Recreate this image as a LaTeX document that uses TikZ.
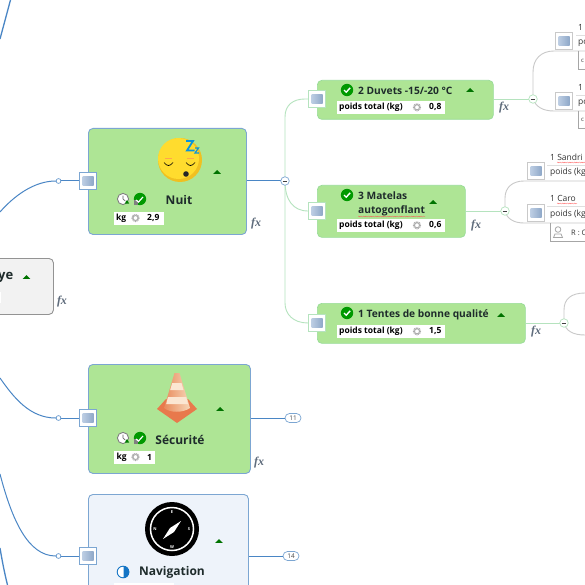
\documentclass[tikz,border=0pt]{standalone}
\usepackage{fontspec}
\setmainfont{Open Sans}
\newfontfamily\fxfont{Liberation Serif}
\usetikzlibrary{decorations.pathmorphing}
\definecolor{grn}{HTML}{AEE595}
\definecolor{grnb}{HTML}{98DC98}
\definecolor{blu}{HTML}{7CA6D2}
\definecolor{wire}{HTML}{4A86C5}
\definecolor{lgw}{HTML}{B5E3BE}
\definecolor{gryw}{HTML}{C9C9C9}
\definecolor{ink}{HTML}{1E2B2B}
\definecolor{fxc}{HTML}{5F6C7C}
\definecolor{navf}{HTML}{EEF3FA}
\definecolor{imga}{HTML}{BCCDE3}
\definecolor{imgb}{HTML}{8FA8C8}
\definecolor{facea}{HTML}{F0C020}
\definecolor{faceb}{HTML}{FFDC2E}
\definecolor{conea}{HTML}{E98A5C}
\definecolor{coneb}{HTML}{F6D7B8}
\definecolor{conec}{HTML}{E8794C}
\definecolor{coned}{HTML}{FBE6D2}
\tikzset{
 x=1pt,y=-1pt,
 mainbox/.style={draw=blu,line width=.9pt,fill=grn,rounded corners=4.5pt,anchor=north west,inner sep=0pt},
 subbox/.style={draw=grnb,line width=.7pt,fill=grn,rounded corners=4.5pt,anchor=north west,inner sep=0pt},
 ttl/.style={font=\bfseries\fontsize{10.2}{12}\selectfont,text=ink,inner sep=0pt,anchor=west},
 bigt/.style={font=\bfseries\fontsize{12}{14}\selectfont,text=ink,inner sep=0pt,anchor=center},
 val/.style={fill=white,inner sep=0pt,minimum height=12.5pt,anchor=north west},
 vtxt/.style={font=\bfseries\fontsize{8.5}{10}\selectfont,text=black,inner sep=0pt,anchor=west},
 fxl/.style={font=\fxfont\bfseries\itshape\fontsize{12}{13}\selectfont,text=fxc,inner sep=0pt},
 minusn/.style={circle,draw=#1,fill=white,line width=.7pt,minimum size=8.5pt,inner sep=0pt},
 dotn/.style={circle,draw=wire,fill=white,line width=.6pt,minimum size=4.8pt,inner sep=0pt},
 pill/.style={draw=blu,fill=white,rounded corners=4.5pt,line width=.7pt,minimum width=16pt,minimum height=9pt,inner sep=0pt,font=\fontsize{6.5}{7}\selectfont,text=black!70},
 wirem/.style={draw=wire,line width=1pt},
 wiresub/.style={draw=lgw,line width=.9pt},
 wireg/.style={draw=gryw,line width=.9pt},
 leaft/.style={font=\fontsize{8.5}{10}\selectfont,text=black!80,inner sep=0pt,anchor=west},
 squig/.style={draw=red!70!white,line width=.25pt,decorate,decoration={snake,amplitude=.55pt,segment length=2.4pt}},
}
\newcommand{\imgbox}[4]{%
 \node[draw=#4,fill=white,line width=.9pt,minimum size=17pt,inner sep=0pt] (#1) at (#2,#3) {};
 \shade[left color=imga,right color=imgb] (#2-5.5,#3-4.5) rectangle (#2+5.5,#3+4.5);}
\newcommand{\tri}[2]{\fill[green!45!black] (#1-3.8,#2+1.8) -- (#1,#2-2) -- (#1+3.8,#2+1.8) -- cycle;}
\newcommand{\chk}[2]{\fill[green!60!black] (#1,#2) circle (6.2);
 \draw[white,line width=1.4pt] (#1-3,#2) -- (#1-.8,#2+2.2) -- (#1+3.2,#2-2.2);}
\newcommand{\clockpair}[2]{\draw[gray,line width=.9pt,fill=white] (#1,#2) circle (5.6);
 \draw[gray!70!black,line width=.6pt] (#1,#2-3.5) -- (#1,#2) -- (#1+2.5,#2+2.2);
 \fill[green!50!black] (#1+4,#2+1) -- (#1+6.2,#2+4.5) -- (#1+1.8,#2+4.5) -- cycle;
 \fill[green!60!black] (#1+17,#2) circle (6.2);
 \fill[gray] (#1+10.5,#2+.5) rectangle (#1+14.5,#2+6);
 \draw[white,line width=1.2pt] (#1+13,#2+1) -- (#1+15.5,#2+3) -- (#1+20,#2-2);}
\newcommand{\gear}[2]{\draw[gray!65,line width=1.4pt,dash pattern=on .9pt off .7pt] (#1,#2) circle (3.4);
 \draw[gray!65,line width=.9pt,fill=white] (#1,#2) circle (2.5);}
\newcommand{\minusmark}[4]{\node[minusn=#4] (#1) at (#2,#3) {};\draw[black!75,line width=.8pt] (#2-2.3,#3) -- (#2+2.3,#3);}
\newcommand{\valrow}[5]{%
 \node[val,minimum width=108pt] at (#1,#2) {};
 \node[vtxt] at (#1+2,#2+6.3) {#3};
 \gear{#4}{#2+6.3}
 \node[vtxt] at (#4+12,#2+6.3) {#5};}
\begin{document}
\begin{tikzpicture}
\useasboundingbox (0,0) rectangle (585,585);
\fill[white] (0,0) rectangle (585,585);
% free ends
\coordinate (c1) at (0,212);
\coordinate (c2) at (0,378);
\coordinate (c3) at (0,474);
\coordinate (o1a) at (10.5,0);
\coordinate (o1b) at (0,39);
\coordinate (o2a) at (0,548);
\coordinate (o2b) at (7.5,585);
\coordinate (eT1) at (585,51);
\coordinate (eT2) at (585,111);
\coordinate (eM1) at (585,181);
\coordinate (eM2) at (585,223);
\coordinate (eQ1) at (585,293);
\coordinate (eQ2) at (585,335);
\draw[wirem,line width=1.3pt] (o1a) .. controls (7,13) and (3.5,26) .. (o1b);
\draw[wirem,line width=1.3pt] (o2a) .. controls (2,560) and (4.5,573) .. (o2b);
% central node
\node[draw=gray!85,fill=black!5,line width=.9pt,rounded corners=4.5pt,anchor=north west,minimum width=83pt,minimum height=56pt,inner sep=0pt] (root) at (-30,258) {};
\node[font=\bfseries\fontsize{13}{15}\selectfont,text=ink,inner sep=0pt,anchor=east] (roott) at (13.5,277) {ye};
\tri{26.5}{277}
\fill[white] (0,292) rectangle (1.2,303);
\node[fxl] (fx0) at (62,302) {fx};
% main boxes
\node[mainbox,minimum width=158pt,minimum height=106pt] (nuit) at (88,128) {};
\node[mainbox,minimum width=162pt,minimum height=109pt] (secu) at (88,364) {};
\node[mainbox,fill=navf,minimum width=160pt,minimum height=100pt] (navi) at (88,494) {};
% sub boxes
\node[subbox,minimum width=176pt,minimum height=39pt] (duv) at (317,80) {};
\node[subbox,minimum width=148pt,minimum height=52pt] (mat) at (317,185) {};
\node[subbox,minimum width=208pt,minimum height=40pt] (ten) at (317,303) {};
% dots and collapse marks
\node[dotn] (d1) at (58.5,181) {};
\node[dotn] (d2) at (58.5,418) {};
\node[dotn] (d3) at (58.5,556) {};
\draw[wirem] (c1) .. controls (14,196) and (34,181) .. (d1.west);
\draw[wirem] (c2) .. controls (14,398) and (30,418) .. (d2.west);
\draw[wirem] (c3) .. controls (12,520) and (28,556) .. (d3.west);
\imgbox{i1}{88}{181}{blu}
\imgbox{i2}{88}{418}{blu}
\imgbox{i3}{88}{556}{blu}
\draw[wirem] (d1) -- (i1);
\draw[wirem] (d2) -- (i2);
\draw[wirem] (d3) -- (i3);
% right pills
\node[pill] (p11) at (293,418) {11};
\node[pill] (p14) at (291,556) {14};
\draw[wirem] (secu.east |- p11) -- (p11);
\draw[wirem] (navi.east |- p14) -- (p14);
% Nuit branches
\imgbox{i4}{317}{99}{lgw}
\imgbox{i5}{317}{211}{lgw}
\imgbox{i6}{317}{323}{lgw}
\coordinate (nh) at (285,181);
\draw[wiresub] (i4.west) -- (305,99) .. controls (293,99) and (285,105) .. (285,117) -- (285,303) .. controls (285,314) and (293,323) .. (i6.west);
\draw[wiresub] (nh) .. controls (285,200) and (293,211) .. (i5.west);
\draw[wirem] (nuit.east |- nh) -- (nh);
\minusmark{m0}{285}{181}{blu}
% leaf branches
\coordinate (h1) at (533,99);
\coordinate (h2) at (505,211);
\coordinate (h3) at (564,323);
\draw[wiresub] (duv.east |- h1) -- (h1);
\draw[wireg] (h1) -- (533,72) .. controls (533,59) and (541,51) .. (554,51) -- (eT1);
\draw[wireg] (h1) .. controls (536,107) and (543,111) .. (554,111) -- (eT2);
\minusmark{m1}{533}{99}{lgw}
\draw[wiresub] (mat.east |- h2) -- (h2);
\draw[wireg] (h2) -- (505,198) .. controls (505,187) and (513,181) .. (524,181) -- (eM1);
\draw[wireg] (h2) .. controls (507,219) and (514,223) .. (524,223) -- (eM2);
\minusmark{m2}{505}{211}{lgw}
\draw[wiresub] (ten.east |- h3) -- (h3);
\draw[wireg] (h3) -- (564,310) .. controls (564,299) and (571,293) .. (eQ1);
\draw[wireg] (h3) .. controls (566,331) and (573,335) .. (eQ2);
\minusmark{m3}{564}{323}{lgw}
% leaf nodes
\imgbox{i7}{564}{41}{gryw}
\imgbox{i8}{564}{101}{gryw}
\imgbox{i9}{536}{171}{gryw}
\imgbox{i10}{536}{213}{gryw}
\node[leaft] (l1) at (578,27) {1};
\draw[gray!25,line width=.7pt] (576,35) -- (585,35);
\node[leaft] (l2) at (578,43) {po};
\draw[gray!70,line width=.6pt] (578,51) -- (578,69) -- (585,69);
\node[leaft,font=\fontsize{6}{7}\selectfont] (l2b) at (581,61) {c};
\node[leaft] (l3) at (578,87) {1};
\draw[gray!25,line width=.7pt] (576,95) -- (585,95);
\node[leaft] (l4) at (578,103) {po};
\draw[gray!70,line width=.6pt] (578,111) -- (578,128) -- (585,128);
\node[leaft,font=\fontsize{6}{7}\selectfont] (l4b) at (581,120) {c};
\node[leaft] (l5) at (550,157) {1 Sandri};
\draw[squig] (557,162.5) -- (585,162.5);
\draw[gray!25,line width=.7pt] (547,165.5) -- (585,165.5);
\node[leaft] (l6) at (550,172) {poids (kg};
\node[leaft] (l7) at (550,198) {1 Caro};
\draw[squig] (557,203.5) -- (577,203.5);
\draw[gray!25,line width=.7pt] (547,206.5) -- (585,206.5);
\node[leaft] (l8) at (550,214) {poids (kg};
\draw[gray!70,line width=.6pt] (550,223) -- (550,241) -- (585,241);
\draw[gray!70,line width=.8pt] (558,229.5) circle (2.8);
\draw[gray!70,line width=.8pt] (553.5,237.5) -- (562.5,237.5) -- (561,234) -- (555,234) -- cycle;
\node[leaft,font=\fontsize{7.5}{9}\selectfont] (l9) at (571,232.5) {R : C};
% Nuit contents
\fill[facea] (180,160) circle (22);
\fill[faceb] (178.5,158.5) circle (20.5);
\draw[black,line width=.7pt] (164,162.5) .. controls (167,166.5) and (170,166.5) .. (173,162.5);
\draw[black,line width=.7pt] (186,162.5) .. controls (189,166.5) and (192,166.5) .. (195,162.5);
\draw[orange!70,line width=.4pt] (165,158.5) -- (172,158.5) (187,158.5) -- (194,158.5);
\fill[black!85] (186,174) circle (2.8);
\draw[cyan!80!blue,line width=1.8pt,line join=miter] (186,141) -- (193,141) -- (187,150.5) -- (194.5,150.5);
\draw[cyan!80!blue,line width=1.2pt] (195,148) -- (198.5,148) -- (195,153) -- (199,153);
\tri{217}{172}
\clockpair{123}{199}
\node[bigt] (nuitt) at (179,200) {Nuit};
\node[val,minimum width=50pt] (nuitv) at (113.5,212) {};
\node[vtxt] (nuitk) at (116,218.3) {kg};
\gear{135.5}{218}
\node[vtxt] (nuitn) at (147,218.3) {2,9};
\node[fxl] (fx1) at (256,224) {fx};
% Duvets
\chk{347}{90}
\node[ttl] (duvt) at (358,91) {2 Duvets -15/-20 °C};
\tri{470}{90}
\valrow{337}{101}{poids total (kg)}{417}{0,8}
\node[fxl] (fx2) at (504,108) {fx};
% Matelas
\chk{347}{195}
\node[ttl] (matt1) at (358,195.5) {3 Matelas};
\node[ttl] (matt2) at (358,210.5) {autogonflant};
\draw[squig] (358,216.5) -- (425,216.5);
\tri{433}{202}
\valrow{337}{219}{poids total (kg)}{417}{0,6}
\node[fxl] (fx3) at (476,226) {fx};
% Tentes
\chk{347}{313}
\node[ttl] (tent) at (358,315) {1 Tentes de bonne qualité};
\tri{501}{315}
\valrow{337}{325}{poids total (kg)}{417}{1,5}
\node[fxl] (fx4) at (536,332) {fx};
% Securite contents
\fill[conec] (157,409) -- (166,399) -- (188,399) -- (197,409) -- (177,423) -- cycle;
\shade[left color=conea,right color=coneb] (174.5,373) -- (179.5,373) -- (190,408) .. controls (183,413) and (170,413) .. (164,408) -- cycle;
\fill[coned] (172.2,383) -- (181.5,383) -- (183.5,390) -- (170.2,390) -- cycle;
\fill[coned] (168,397) -- (186.2,397) -- (188,404) -- (166.2,404) -- cycle;
\tri{220}{409}
\clockpair{123}{438}
\node[bigt] (sect) at (180,440) {Sécurité};
\node[val,minimum width=41pt] (secv) at (114,451) {};
\node[vtxt] (seck) at (116.5,457.3) {kg};
\gear{135.5}{457}
\node[vtxt] (secn) at (147,457.3) {1};
\node[fxl] (fx5) at (259,463) {fx};
% Navigation contents
\fill[black] (172,529) circle (27);
\draw[white,line width=1.5pt] (172,529) circle (21.5);
\node[font=\bfseries\fontsize{4}{4}\selectfont,text=white,inner sep=0pt] (ne) at (172,512) {E};
\node[font=\bfseries\fontsize{4}{4}\selectfont,text=white,inner sep=0pt] (nw) at (172,547) {W};
\node[font=\bfseries\fontsize{4}{4}\selectfont,text=white,inner sep=0pt] (nn) at (155,529) {N};
\node[font=\bfseries\fontsize{4}{4}\selectfont,text=white,inner sep=0pt] (ns) at (189,529) {S};
\fill[white] (181,521) -- (174,532) -- (163,539) -- (170,528) -- cycle;
\tri{219}{541}
\fill[white] (123,572) circle (6);
\begin{scope}
\clip (123.5,565) rectangle (131,579);
\fill[cyan!55!blue] (123,572) circle (6.3);
\end{scope}
\draw[cyan!55!blue,line width=.9pt] (123,572) circle (5.8);
\node[bigt] (navt) at (172,572.5) {Navigation};
\fill[white] (114,583) rectangle (174,585);
\end{tikzpicture}
\end{document}
